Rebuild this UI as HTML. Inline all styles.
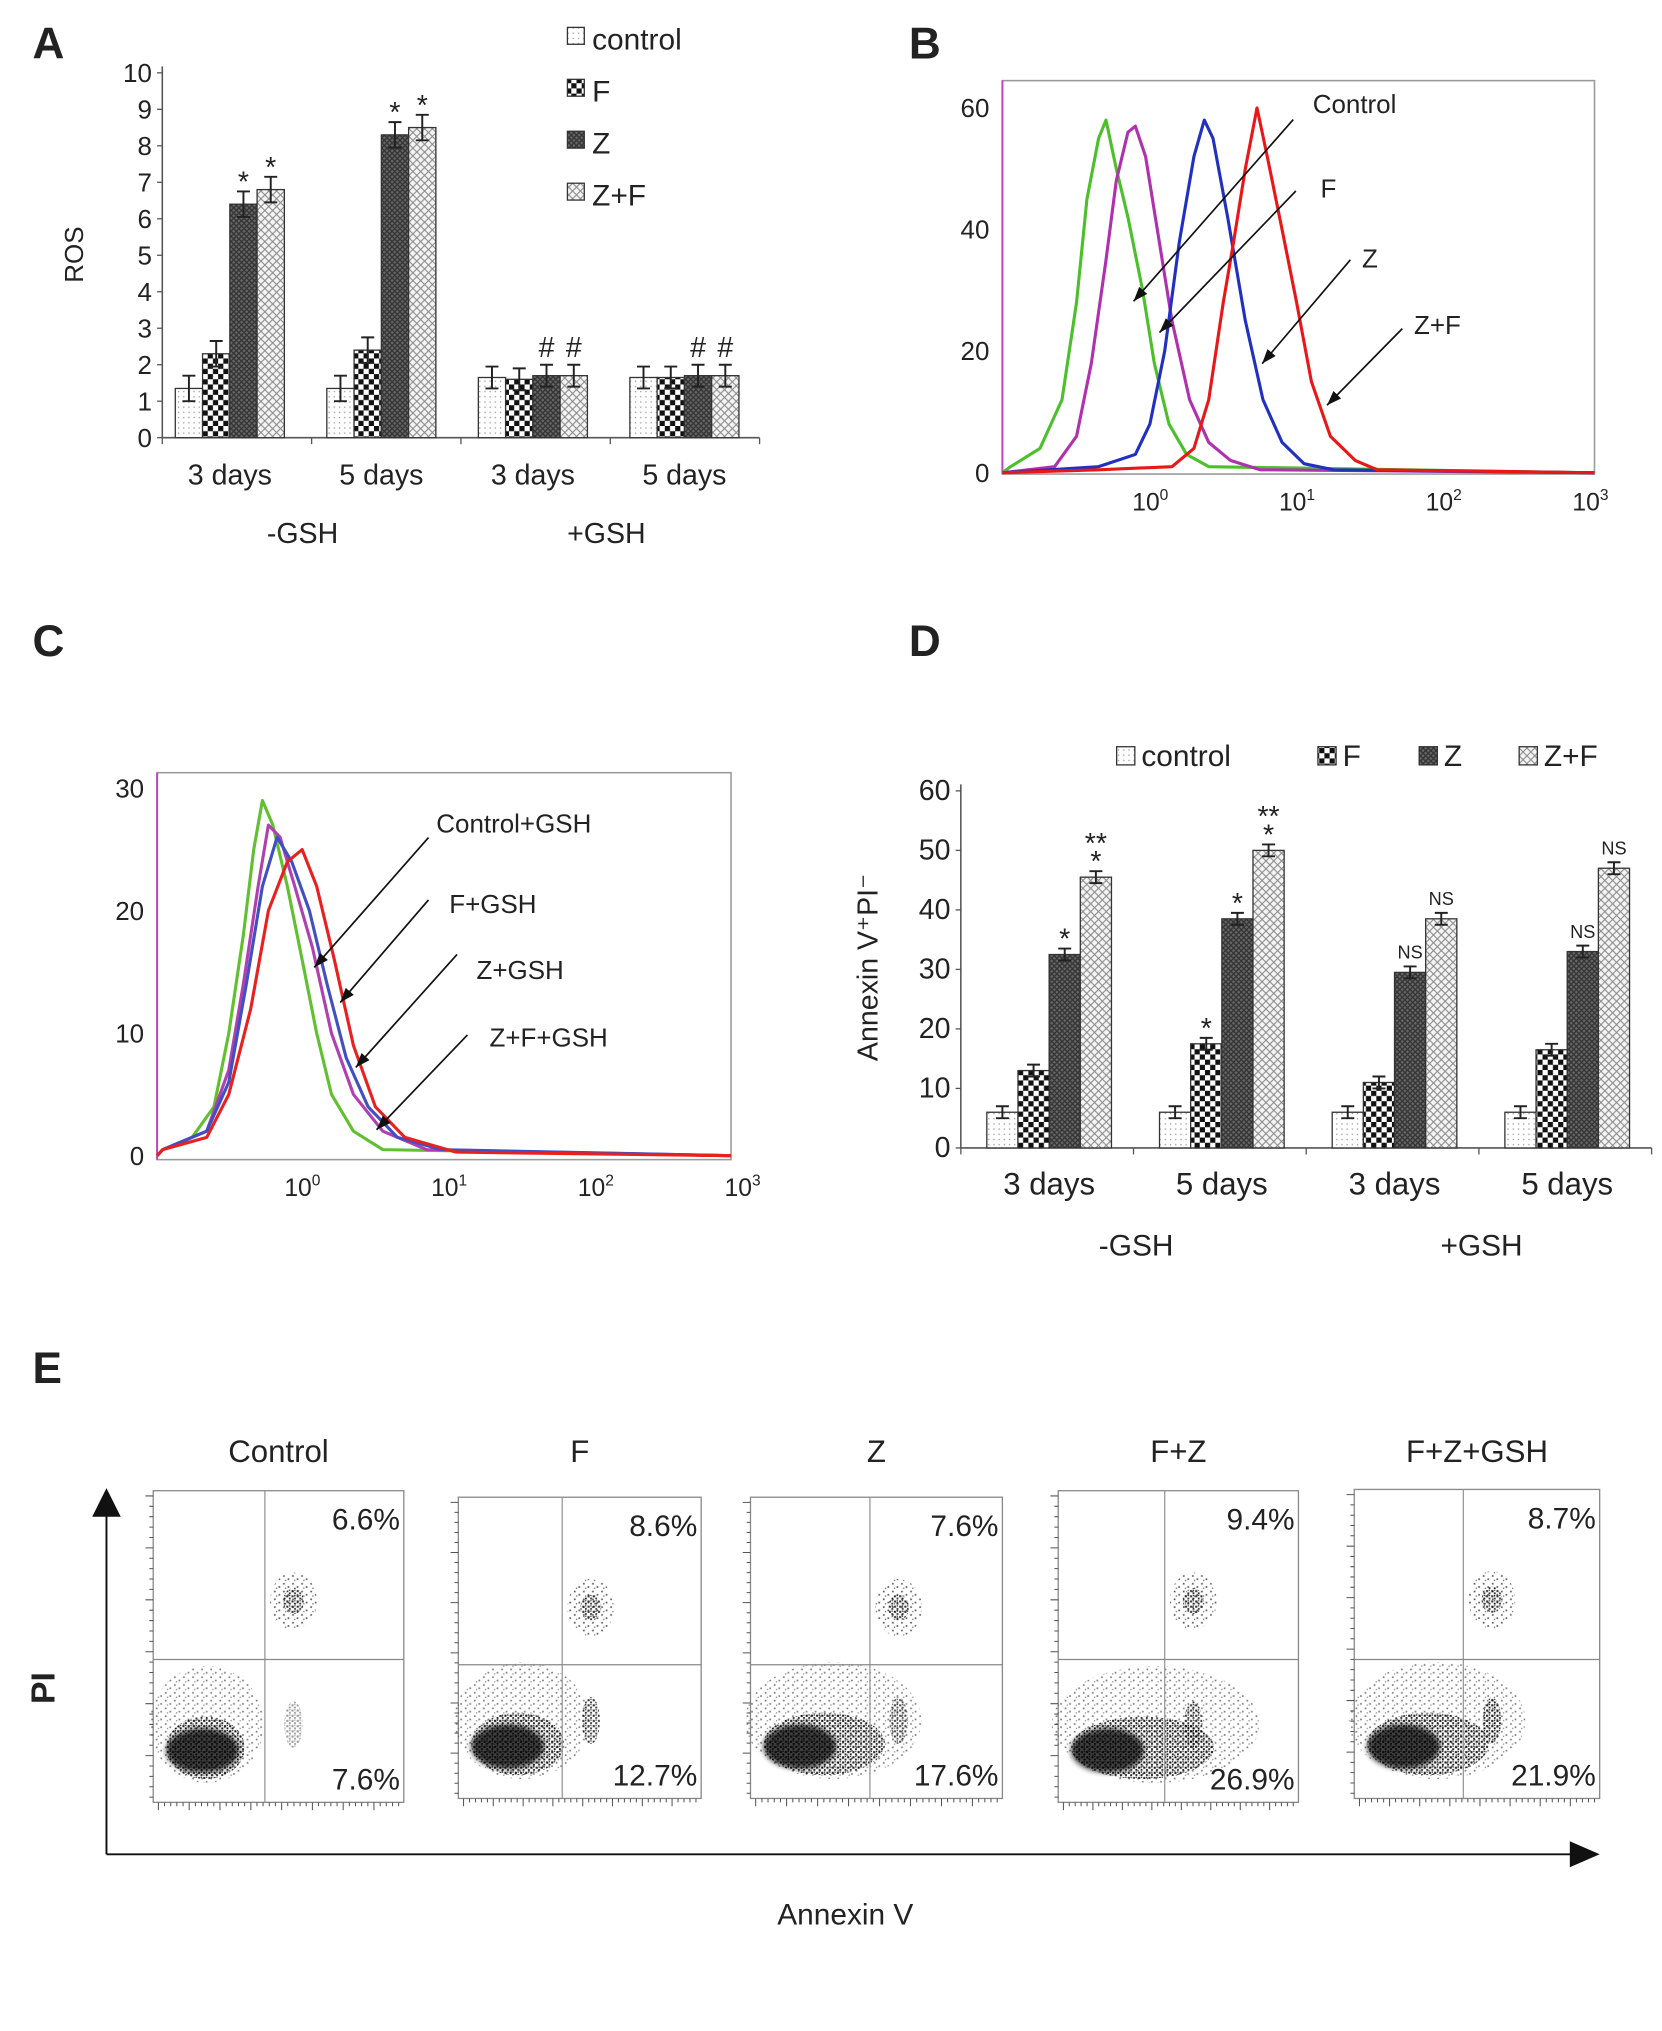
<!DOCTYPE html>
<html><head><meta charset="utf-8"><style>
html,body{margin:0;padding:0;background:#fff}
svg{display:block}
text{font-family:"Liberation Sans",sans-serif;fill:#222}
</style></head><body>
<svg id="fig" width="1662" height="2031" viewBox="0 0 1280 1564" xmlns="http://www.w3.org/2000/svg">
<defs>
<pattern id="pCtrl" width="4" height="4" patternUnits="userSpaceOnUse"><rect width="4" height="4" fill="#fff"/><rect x="1" y="1" width="1" height="1" fill="#999"/></pattern>
<pattern id="pF" width="8" height="8" patternUnits="userSpaceOnUse"><rect width="8" height="8" fill="#fff"/><rect width="4" height="4" fill="#111"/><rect x="4" y="4" width="4" height="4" fill="#111"/></pattern>
<pattern id="pZ" width="4" height="4" patternUnits="userSpaceOnUse"><rect width="4" height="4" fill="#666"/><path d="M0 0L4 4M4 0L0 4" stroke="#333" stroke-width="1"/></pattern>
<pattern id="pZF" width="6" height="6" patternUnits="userSpaceOnUse"><rect width="6" height="6" fill="#f4f4f4"/><path d="M0 0L6 6M6 0L0 6" stroke="#888" stroke-width="0.8"/></pattern>
<pattern id="pDots" width="7" height="6" patternUnits="userSpaceOnUse"><rect x="1" y="1" width="1.3" height="1.3" fill="#111"/><rect x="4.5" y="3.5" width="1.3" height="1.3" fill="#111"/><rect x="2.5" y="4.6" width="1" height="1" fill="#333"/></pattern>
<pattern id="pDense" width="4" height="4" patternUnits="userSpaceOnUse"><rect x="0.5" y="0.5" width="1.6" height="1.6" fill="#000"/><rect x="2.5" y="2.3" width="1.4" height="1.4" fill="#000"/><rect x="2.6" y="0.2" width="1" height="1" fill="#111"/></pattern>
<filter id="blur"><feGaussianBlur stdDeviation="4"/></filter>
<filter id="blur2"><feGaussianBlur stdDeviation="2"/></filter>
</defs>
<g id="root"></g>
</svg>
<script>
const NS="http://www.w3.org/2000/svg";
const root=document.getElementById('root');
function el(tag,attrs,parent,txt){const e=document.createElementNS(NS,tag);for(const k in attrs)e.setAttribute(k,attrs[k]);if(txt!==undefined)e.textContent=txt;(parent||root).appendChild(e);return e;}
const fills=['url(#pCtrl)','url(#pF)','url(#pZ)','url(#pZF)'];
const seriesNames=['control','F','Z','Z+F'];

// ---------- Panel A data ----------
const aCategories=['3 days','5 days','3 days','5 days'];
const aControl=[1.35,1.35,1.65,1.65];
const aF=[2.3,2.4,1.6,1.65];
const aZ=[6.4,8.3,1.7,1.7];
const aZF=[6.8,8.5,1.7,1.7];
const aErr=[0.35,0.35,0.3,0.3];
const aMarks=[['','','*','*'],['','','*','*'],['','','#','#'],['','','#','#']];
const aTicks=[0,1,2,3,4,5,6,7,8,9,10];

// ---------- Panel D data ----------
const dCategories=['3 days','5 days','3 days','5 days'];
const dControl=[6,6,6,6];
const dF=[13,17.5,11,16.5];
const dZ=[32.5,38.5,29.5,33];
const dZF=[45.5,50,38.5,47];
const dMarks=[['','','*','**\n*'],['','*','*','**\n*'],['','','NS','NS'],['','','NS','NS']];
const dTicks=[0,10,20,30,40,50,60];

// ---------- Panel B data (log10 intensity, count) ----------
const bGreen=[[-0.9,1],[-0.7,4],[-0.55,12],[-0.45,28],[-0.38,45],[-0.3,55],[-0.25,58],[-0.18,50],[-0.1,42],[0,30],[0.08,18],[0.18,8],[0.3,3],[0.45,1]];
const bMagenta=[[-0.6,1],[-0.45,6],[-0.35,18],[-0.25,35],[-0.18,48],[-0.1,56],[-0.05,57],[0.02,52],[0.1,40],[0.2,25],[0.32,12],[0.45,5],[0.6,2],[0.8,0.5]];
const bBlue=[[-0.3,1],[-0.05,3],[0.05,8],[0.15,20],[0.25,38],[0.35,52],[0.42,58],[0.48,55],[0.58,42],[0.7,25],[0.82,12],[0.95,5],[1.1,1.5],[1.3,0.5]];
const bRed=[[-0.3,0.5],[0.2,1],[0.35,4],[0.45,12],[0.55,28],[0.62,38],[0.7,50],[0.78,60],[0.85,52],[0.95,40],[1.05,28],[1.15,15],[1.28,6],[1.45,2],[1.6,0.5]];
const bLabels=['Control','F','Z','Z+F'];
const bTicks=[0,20,40,60];

// ---------- Panel C data ----------
const cGreen=[[-0.9,0.5],[-0.7,1.5],[-0.55,4],[-0.45,10],[-0.35,18],[-0.28,25],[-0.22,29],[-0.15,27],[-0.05,22],[0.05,16],[0.15,10],[0.25,5],[0.4,2],[0.6,0.5]];
const cMagenta=[[-0.9,0.5],[-0.6,2],[-0.45,7],[-0.35,14],[-0.25,22],[-0.18,27],[-0.1,26],[0,22],[0.12,17],[0.25,10],[0.4,5],[0.6,2],[0.9,0.5]];
const cBlue=[[-0.9,0.5],[-0.6,2],[-0.45,6],[-0.33,14],[-0.22,22],[-0.12,26],[-0.02,24],[0.1,20],[0.22,14],[0.35,8],[0.5,4],[0.7,1.5],[1,0.5]];
const cRed=[[-0.9,0.5],[-0.6,1.5],[-0.45,5],[-0.3,12],[-0.18,20],[-0.05,24],[0.05,25],[0.15,22],[0.27,16],[0.4,9],[0.55,4],[0.75,1.5],[1.1,0.3]];
const cLabels=['Control+GSH','F+GSH','Z+GSH','Z+F+GSH'];
const cTicks=[0,10,20,30];

// ---------- Panel E data ----------
const eTitles=['Control','F','Z','F+Z','F+Z+GSH'];
const eUpperRight=['6.6%','8.6%','7.6%','9.4%','8.7%'];
const eLowerRight=['7.6%','12.7%','17.6%','26.9%','21.9%'];

[['A',25,45],['B',700,45],['C',25,505],['D',700,505],['E',25,1065]].forEach(([t,x,y])=>{
 const e=el('text',{x,y,'font-size':34,'font-weight':'bold'},root,t);
 
 
});

function barChart(o){
 const g=el('g',{});
 
 
 const ys=v=>o.y0-(v-o.ymin)/(o.ymax-o.ymin)*(o.y0-o.y1);
 el('line',{x1:o.xa,y1:o.y1-5,x2:o.xa,y2:o.y0,stroke:'#555','stroke-width':1.2},g);
 el('line',{x1:o.xa,y1:o.y0,x2:o.xb,y2:o.y0,stroke:'#555','stroke-width':1.2},g);
 o.ticks.forEach(t=>{
  el('line',{x1:o.xa-4,y1:ys(t),x2:o.xa,y2:ys(t),stroke:'#555'},g);
  const tx=el('text',{x:o.xa-8,y:ys(t)+7,'font-size':o.fs,'text-anchor':'end'},g,t);
  
  
 });
 for(let i=0;i<=o.cats.length;i++){const x=o.xa+i*(o.xb-o.xa)/o.cats.length;el('line',{x1:x,y1:o.y0,x2:x,y2:o.y0+5,stroke:'#555'},g);}
 o.cats.forEach((c,i)=>{
  const gs=o.gstart+i*o.gstep;
  o.series.forEach((s,j)=>{
   const v=s[i];const x=gs+j*o.bw;
   const r=el('rect',{x,y:ys(v),width:o.bw,height:o.y0-ys(v),fill:fills[j],stroke:'#333','stroke-width':1},g);
   
   
   const er=o.err?o.err[i]:o.errd;
   const cx=x+o.bw/2;
   el('path',{d:`M${cx} ${ys(v+er)}V${ys(v-er)}M${cx-5} ${ys(v+er)}H${cx+5}M${cx-5} ${ys(v-er)}H${cx+5}`,stroke:'#222','stroke-width':1.5,fill:'none'},g);
   const m=o.marks[i][j];
   if(m){const lines=m.split('\n');lines.forEach((ln,k)=>{
    const t=el('text',{x:cx,y:ys(v+er)-6-(lines.length-1-k)*14+(ln==='*'||ln==='**'?6:0),'font-size':ln==='NS'?14:22,'text-anchor':'middle'},g,ln);
    
    
   });}
  });
  const lx=gs+2*o.bw;
  const t=el('text',{x:lx,y:o.y0+o.catDy,'font-size':o.fs+2,'text-anchor':'middle'},g,c);
  
  
 });
 return {g,ys};
}

const A=barChart({name:'chart-ros',xa:125,xb:585,y0:337,y1:56,ymin:0,ymax:10,ticks:aTicks,fs:20,cats:aCategories,series:[aControl,aF,aZ,aZF],gstart:135,gstep:116.7,bw:21,err:aErr,marks:aMarks,catDy:36});
[['-GSH',233],['+GSH',467]].forEach(([t,x])=>{const e=el('text',{x,y:418,'font-size':22,'text-anchor':'middle'},A.g,t);});
{const e=el('text',{x:0,y:0,'font-size':20,'text-anchor':'middle',transform:'translate(64,196) rotate(-90)'},A.g,'ROS');}
seriesNames.forEach((n,j)=>{
 const y=30+j*40;
 el('rect',{x:437,y:y-9,width:13,height:13,fill:fills[j],stroke:'#333'},A.g);
 const t=el('text',{x:456,y:y+8,'font-size':23},A.g,n);
 
 
});

const D=barChart({name:'chart-annexin',xa:740,xb:1272,y0:884,y1:609,ymin:0,ymax:60,ticks:dTicks,fs:22,cats:dCategories,series:[dControl,dF,dZ,dZF],gstart:760,gstep:133,bw:24,errd:1,marks:dMarks,catDy:36});
[['-GSH',875],['+GSH',1141]].forEach(([t,x])=>{const e=el('text',{x,y:967,'font-size':23,'text-anchor':'middle'},D.g,t);});
{const e=el('text',{x:0,y:0,'font-size':22,'text-anchor':'middle',transform:'translate(676,745) rotate(-90)'},D.g,'Annexin V⁺PI⁻');}
[[860,'control'],[1015,'F'],[1093,'Z'],[1170,'Z+F']].forEach(([x,n],j)=>{
 el('rect',{x,y:575,width:14,height:14,fill:fills[j],stroke:'#333'},D.g);
 const t=el('text',{x:x+19,y:590,'font-size':23},D.g,n);
 
 
});

function hist(o){
 const g=el('g',{});
 
 
 const xs=l=>o.x10+l*o.dec, ys=v=>o.y0-v/o.ymax*(o.y0-o.ytop);
 el('rect',{x:o.bx0,y:o.by0,width:o.bx1-o.bx0,height:o.by1-o.by0,fill:'none',stroke:'#999','stroke-width':1.2},g);
 el('line',{x1:o.bx0,y1:o.by0,x2:o.bx0,y2:o.by1,stroke:'#c040c0','stroke-width':1.5},g);
 o.ticks.forEach(t=>{const e=el('text',{x:o.bx0-10,y:ys(t)+7,'font-size':20,'text-anchor':'end'},g,t);});
 [0,1,2,3].forEach(p=>{const e=el('text',{x:xs(p)-8,y:o.by1+28,'font-size':19},g,'10');el('tspan',{dy:-8,'font-size':12},e,String(p));});
 o.curves.forEach(([pts,col,nm])=>{
  let d='M'+o.bx0+' '+o.y0;
  pts.forEach(([l,v])=>{d+=' L'+xs(l).toFixed(1)+' '+ys(v).toFixed(1);});
  d+=' L'+o.bx1+' '+o.y0;
  const p=el('path',{d,fill:'none',stroke:col,'stroke-width':2.4,'stroke-linejoin':'round'},g);
  
  
 });
 o.arrows.forEach(([x1,y1,x2,y2,lab,lx,ly])=>{
  el('line',{x1,y1,x2,y2,stroke:'#111','stroke-width':1.3},g);
  const a=Math.atan2(y2-y1,x2-x1),h=12;
  el('path',{d:`M${x2} ${y2}L${x2-h*Math.cos(a-0.35)} ${y2-h*Math.sin(a-0.35)}L${x2-h*Math.cos(a+0.35)} ${y2-h*Math.sin(a+0.35)}Z`,fill:'#111'},g);
  const t=el('text',{x:lx,y:ly,'font-size':20},g,lab);
  
  
 });
}
hist({name:'histogram-b',x10:880,dec:113,y0:364,ytop:83,ymax:60,bx0:772,bx1:1228,by0:62,by1:365,ticks:bTicks,
 curves:[[bGreen,'#4cc02a','green'],[bMagenta,'#b030b0','magenta'],[bBlue,'#2030c0','blue'],[bRed,'#e81818','red']],
 arrows:[[996,92,873,232,bLabels[0],1011,87],[998,147,893,256,bLabels[1],1017,152],[1040,200,972,280,bLabels[2],1049,206],[1080,253,1022,312,bLabels[3],1089,257]]});
hist({name:'histogram-c',x10:227,dec:113,y0:890,ytop:607,ymax:30,bx0:121,bx1:563,by0:595,by1:893,ticks:cTicks,
 curves:[[cGreen,'#60c030','green'],[cMagenta,'#b040b0','magenta'],[cBlue,'#4050c0','blue'],[cRed,'#e82020','red']],
 arrows:[[330,645,242,745,cLabels[0],336,641],[330,693,262,772,cLabels[1],346,703],[352,735,274,822,cLabels[2],367,754],[360,797,290,870,cLabels[3],377,806]]});

const eBoxes=[[118,311,1148,1388,204,1278],[353,540,1153,1385,433,1282],[578,772,1153,1385,670,1282],[815,1000,1148,1388,897,1278],[1043,1232,1147,1385,1127,1278]];
const eg=el('g',{});


eTitles.forEach((t,i)=>{
 const [x0,x1,y0,y1,dx,dy]=eBoxes[i];
 const g=el('g',{},eg);
 
 
 const tt=el('text',{x:(x0+x1)/2,y:1126,'font-size':24,'text-anchor':'middle'},g,t);
 
 el('rect',{x:x0,y:y0,width:x1-x0,height:y1-y0,fill:'#fff',stroke:'#888'},g);
 const w=[55,65,85,100,85][i];
 // sparse dots halo
 el('ellipse',{cx:x0+w*0.75,cy:y1-60,rx:w*0.8,ry:45,fill:'url(#pDots)',opacity:0.55},g);
 el('ellipse',{cx:dx+22,cy:y0+85,rx:18,ry:22,fill:'url(#pDots)',opacity:0.7},g);
 el('ellipse',{cx:dx+22,cy:y0+85,rx:8,ry:10,fill:'url(#pDense)',opacity:0.8},g);
 // dense main population
 el('ellipse',{cx:x0+10+w*0.55,cy:y1-42,rx:w*0.55,ry:24,fill:'url(#pDense)',opacity:0.9},g);
 el('ellipse',{cx:x0+38,cy:y1-40,rx:28,ry:17,fill:'#000',opacity:0.75,filter:'url(#blur2)'},g);
 el('ellipse',{cx:dx+22,cy:y1-60,rx:7,ry:18,fill:'url(#pDense)',opacity:[0.4,0.8,0.7,0.8,0.9][i]},g);
 el('line',{x1:dx,y1:y0,x2:dx,y2:y1,stroke:'#999'},g);
 el('line',{x1:x0,y1:dy,x2:x1,y2:dy,stroke:'#888'},g);
 let d='';for(let k=0;k<40;k++){const x=x0+4+k*(x1-x0-8)/39;d+=`M${x.toFixed(1)} ${y1}v${k%5?3:6}`;}
 for(let k=0;k<30;k++){const y=y0+4+k*(y1-y0-8)/29;d+=`M${x0} ${y.toFixed(1)}h${k%5?-3:-6}`;}
 el('path',{d,stroke:'#555','stroke-width':0.8},g);
 const u=el('text',{x:x1-3,y:y0+30,'font-size':23,'text-anchor':'end'},g,eUpperRight[i]);
 
 const l=el('text',{x:x1-3,y:y1-10,'font-size':23,'text-anchor':'end'},g,eLowerRight[i]);
 
});
el('line',{x1:82,y1:1428,x2:82,y2:1165,stroke:'#111','stroke-width':1.5},eg);
el('path',{d:'M82 1146L71 1168H93Z',fill:'#111'},eg);
el('line',{x1:82,y1:1428,x2:1212,y2:1428,stroke:'#111','stroke-width':1.5},eg);
el('path',{d:'M1232 1428L1209 1418V1438Z',fill:'#111'},eg);
{const t=el('text',{x:651,y:1482,'font-size':23,'text-anchor':'middle'},eg,'Annexin V');}
{const t=el('text',{x:0,y:0,'font-size':26,'font-weight':'bold','text-anchor':'middle',transform:'translate(42,1300) rotate(-90)'},eg,'PI');}
</script>
</body></html>
